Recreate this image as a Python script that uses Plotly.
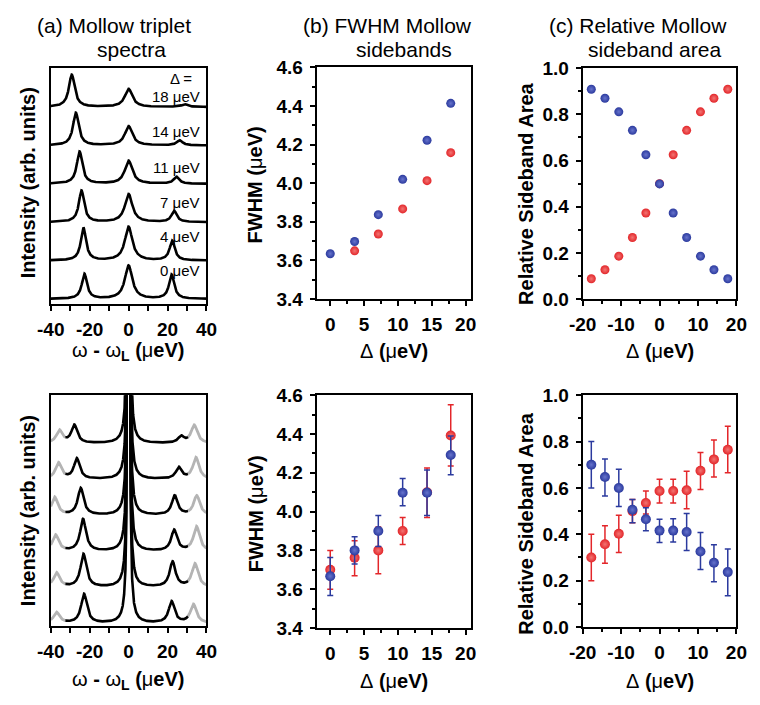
import numpy as np
import plotly.graph_objects as go

W, H = 760, 705
FONT = "Liberation Sans, Arial, sans-serif"
BLUE = "#2b3a9e"
RED = "#e3262a"
BLUE_HI = "#6673cc"
RED_HI = "#f27472"

# ---------------- (a) theory spectra: peak parameters
th_labels = ["0 μeV", "4 μeV", "7 μeV", "11 μeV", "14 μeV", "18 μeV"]
th_left_pos = [-22.7, -23.2, -24.2, -25.2, -27.1, -29.2]
th_left_h = [0.65, 0.85, 0.82, 0.84, 0.85, 0.84]
th_left_w = [1.6, 1.6, 1.65, 1.7, 1.75, 1.8]
th_center_h = [0.87, 0.88, 0.73, 0.60, 0.50, 0.47]
th_center_w = [2.3, 2.3, 2.3, 2.3, 2.3, 2.3]
th_right_pos = [22.1, 22.4, 23.4, 24.6, 26.2, 28.7]
th_right_h = [0.63, 0.51, 0.29, 0.18, 0.13, 0.07]
th_right_w = [1.6, 1.6, 1.65, 1.7, 1.75, 1.8]

ex_left_pos = [-22.9, -23.2, -23.4, -24.6, -26.6, -27.9]
ex_left_h = [0.81, 0.92, 0.89, 0.75, 0.57, 0.50]
ex_right_pos = [22.1, 22.6, 23.4, 23.7, 25.8, 27.0]
ex_right_h = [0.60, 0.70, 0.58, 0.54, 0.32, 0.18]
ex_side_w = [1.8, 1.8, 1.8, 1.8, 1.8, 1.8]
ex_spike_h = [40, 40, 40, 40, 40, 40]
ex_base_h = [0.3, 0.3, 0.3, 0.3, 0.3, 0.3]
ghost_right_pos = [33.3, 34.1, 34.9, 35.0, 34.6, 33.7]
ghost_right_h = [0.52, 0.65, 0.68, 0.54, 0.60, 0.50]
ghost_left_pos = [-37.0, -37.0, -37.5, -38.0, -36.0, -35.5]
ghost_left_h = [0.30, 0.40, 0.45, 0.50, 0.45, 0.35]
exp_black_range = [-32.5, 30.5]

# ---------------- (b) FWHM
fw_delta = [0, 3.6, 7.1, 10.7, 14.3, 17.8]
fw_theory_blue = [3.635, 3.698, 3.837, 4.020, 4.222, 4.413]
fw_theory_red_delta = [3.6, 7.1, 10.7, 14.3, 17.8]
fw_theory_red = [3.650, 3.737, 3.867, 4.013, 4.158]
fw_exp_blue = [3.667, 3.800, 3.900, 4.097, 4.097, 4.292]
fw_exp_blue_hi = [3.763, 3.870, 3.980, 4.170, 4.215, 4.390]
fw_exp_blue_lo = [3.567, 3.730, 3.820, 4.030, 3.980, 4.190]
fw_exp_red = [3.700, 3.762, 3.800, 3.900, 4.100, 4.392]
fw_exp_red_hi = [3.800, 3.850, 3.920, 3.970, 4.225, 4.550]
fw_exp_red_lo = [3.600, 3.670, 3.680, 3.830, 3.970, 4.235]

# ---------------- (c) relative sideband area
ra_delta = [-17.75, -14.2, -10.6, -7.05, -3.55, 0, 3.55, 7.05, 10.65, 14.15, 17.75]
ra_theory_blue = [0.909, 0.870, 0.811, 0.731, 0.625, 0.499, 0.373, 0.267, 0.186, 0.127, 0.088]
ra_theory_red = [0.088, 0.127, 0.186, 0.267, 0.373, 0.500, 0.625, 0.731, 0.811, 0.870, 0.909]
ra_exp_blue = [0.700, 0.647, 0.600, 0.506, 0.465, 0.416, 0.416, 0.410, 0.326, 0.277, 0.237]
ra_exp_blue_hi = [0.800, 0.725, 0.680, 0.550, 0.515, 0.465, 0.467, 0.490, 0.408, 0.355, 0.337]
ra_exp_blue_lo = [0.600, 0.565, 0.520, 0.450, 0.415, 0.365, 0.367, 0.330, 0.248, 0.195, 0.135]
ra_exp_red = [0.300, 0.357, 0.402, 0.500, 0.535, 0.587, 0.587, 0.590, 0.674, 0.723, 0.765]
ra_exp_red_hi = [0.400, 0.437, 0.482, 0.550, 0.587, 0.637, 0.637, 0.672, 0.753, 0.807, 0.866]
ra_exp_red_lo = [0.200, 0.275, 0.322, 0.450, 0.487, 0.535, 0.535, 0.510, 0.593, 0.647, 0.665]


def lor(x, x0, h, g):
    return h / (1.0 + ((x - x0) / g) ** 2)


def fx(px):
    return px / W


def fy(py):
    return 1 - py / H


fig = go.Figure()

# ---------- theory spectra
xs = np.linspace(-40, 40, 1601)
for k in range(6):
    y = (k + lor(xs, th_left_pos[k], th_left_h[k], th_left_w[k])
         + lor(xs, 0.0, th_center_h[k], th_center_w[k])
         + lor(xs, th_right_pos[k], th_right_h[k], th_right_w[k]))
    fig.add_trace(go.Scatter(x=xs, y=y, mode="lines", line=dict(color="black", width=2.6),
                             xaxis="x", yaxis="y", showlegend=False, hoverinfo="skip"))

# ---------- experimental spectra
xe = np.linspace(-40, 40, 3201)
for k in range(6):
    y = (k + lor(xe, ex_left_pos[k], ex_left_h[k], ex_side_w[k])
         + lor(xe, ex_right_pos[k], ex_right_h[k], ex_side_w[k])
         + lor(xe, 0.0, ex_spike_h[k], 0.3)
         + lor(xe, 0.0, ex_base_h[k], 2.0)
         + lor(xe, ghost_right_pos[k], ghost_right_h[k], 1.9)
         + lor(xe, ghost_left_pos[k], ghost_left_h[k], 1.9))
    lo, hi = exp_black_range
    mL = xe <= lo
    mR = xe >= hi
    mC = (xe >= lo) & (xe <= hi)
    for m, col, wdt in ((mL, "#b4b4b4", 2.8), (mR, "#b4b4b4", 2.8), (mC, "black", 2.6)):
        fig.add_trace(go.Scatter(x=xe[m], y=y[m], mode="lines", line=dict(color=col, width=wdt),
                                 xaxis="x2", yaxis="y2", showlegend=False, hoverinfo="skip"))


def sphere(color, hi, size):
    return dict(color=color, size=size, line=dict(width=0),
                gradient=dict(type="radial", color=hi))


# ---------- (b) top
fig.add_trace(go.Scatter(x=fw_theory_red_delta, y=fw_theory_red, mode="markers",
                         marker=sphere(RED, RED_HI, 9), xaxis="x3", yaxis="y3", showlegend=False))
fig.add_trace(go.Scatter(x=fw_delta, y=fw_theory_blue, mode="markers",
                         marker=sphere(BLUE, BLUE_HI, 9), xaxis="x3", yaxis="y3", showlegend=False))


def errs(v, hi, lo):
    return ([h - a for a, h in zip(v, hi)], [a - l for a, l in zip(v, lo)])


# ---------- (b) bottom
p, m = errs(fw_exp_red, fw_exp_red_hi, fw_exp_red_lo)
fig.add_trace(go.Scatter(x=fw_delta, y=fw_exp_red, mode="markers", marker=sphere(RED, RED_HI, 10),
                         error_y=dict(type="data", symmetric=False, array=p, arrayminus=m,
                                      color=RED, thickness=1.5, width=3),
                         xaxis="x4", yaxis="y4", showlegend=False))
p, m = errs(fw_exp_blue, fw_exp_blue_hi, fw_exp_blue_lo)
fig.add_trace(go.Scatter(x=fw_delta, y=fw_exp_blue, mode="markers", marker=sphere(BLUE, BLUE_HI, 10),
                         error_y=dict(type="data", symmetric=False, array=p, arrayminus=m,
                                      color=BLUE, thickness=1.5, width=3),
                         xaxis="x4", yaxis="y4", showlegend=False))

# ---------- (c) top
fig.add_trace(go.Scatter(x=ra_delta, y=ra_theory_red, mode="markers",
                         marker=sphere(RED, RED_HI, 9), xaxis="x5", yaxis="y5", showlegend=False))
fig.add_trace(go.Scatter(x=ra_delta, y=ra_theory_blue, mode="markers",
                         marker=sphere(BLUE, BLUE_HI, 9), xaxis="x5", yaxis="y5", showlegend=False))

# ---------- (c) bottom
p, m = errs(ra_exp_red, ra_exp_red_hi, ra_exp_red_lo)
fig.add_trace(go.Scatter(x=ra_delta, y=ra_exp_red, mode="markers", marker=sphere(RED, RED_HI, 10),
                         error_y=dict(type="data", symmetric=False, array=p, arrayminus=m,
                                      color=RED, thickness=1.5, width=3),
                         xaxis="x6", yaxis="y6", showlegend=False))
p, m = errs(ra_exp_blue, ra_exp_blue_hi, ra_exp_blue_lo)
fig.add_trace(go.Scatter(x=ra_delta, y=ra_exp_blue, mode="markers", marker=sphere(BLUE, BLUE_HI, 10),
                         error_y=dict(type="data", symmetric=False, array=p, arrayminus=m,
                                      color=BLUE, thickness=1.5, width=3),
                         xaxis="x6", yaxis="y6", showlegend=False))

TICKFONT = dict(family=FONT, size=19, color="black", weight="bold")


def ax(domain, anchor, rng, standoff, **kw):
    d = dict(domain=domain, anchor=anchor, range=rng, showline=True, linecolor="black",
             linewidth=2, mirror=True, ticks="outside", ticklen=5, tickwidth=1.5,
             tickcolor="black", showgrid=False, zeroline=False, tickfont=TICKFONT,
             fixedrange=True, ticklabelstandoff=standoff)
    d.update(kw)
    return d


def minor(**kw):
    d = dict(ticks="outside", ticklen=3, tickwidth=1.5, tickcolor="black", showgrid=False)
    d.update(kw)
    return d


xa_dom = [fx(38), fx(199)]
xb_dom = [fx(313), fx(473)]
xc_dom = [fx(588), fx(747)]
top_a = [fy(303), fy(60)]
bot_a = [fy(635), fy(397)]
top_b = [fy(298), fy(59)]
bot_b = [fy(637), fy(397)]
top_c = [fy(298), fy(60)]
bot_c = [fy(636), fy(397)]

spec_x = dict(tickmode="array", tickvals=[-40, -20, 0, 20, 40],
              ticktext=["-40", "-20", "0", "20", "40"],
              minor=minor(tickmode="array", tickvals=[-30, -10, 10, 30], ticklen=5))
spec_y = dict(ticks="", showticklabels=False)
b_x = dict(tickmode="array", tickvals=[0, 5, 10, 15, 20], ticktext=["0", "5", "10", "15", "20"],
           minor=minor(tickmode="array", tickvals=[2.5, 7.5, 12.5, 17.5]))
b_y = dict(tickmode="array", tickvals=[3.4, 3.6, 3.8, 4.0, 4.2, 4.4, 4.6],
           ticktext=["3.4", "3.6", "3.8", "4.0", "4.2", "4.4", "4.6"],
           minor=minor(tickmode="array", tickvals=[3.5, 3.7, 3.9, 4.1, 4.3, 4.5]))
c_x = dict(tickmode="array", tickvals=[-20, -10, 0, 10, 20],
           ticktext=["-20", "-10", "0", "10", "20"],
           minor=minor(tickmode="array", tickvals=[-15, -5, 5, 15]))
c_y = dict(tickmode="array", tickvals=[0, 0.2, 0.4, 0.6, 0.8, 1.0],
           ticktext=["0.0", "0.2", "0.4", "0.6", "0.8", "1.0"],
           minor=minor(tickmode="array", tickvals=[0.1, 0.3, 0.5, 0.7, 0.9]))

XS, YS = 2, 3
fig.update_layout(
    width=W, height=H, margin=dict(l=0, r=0, t=0, b=0),
    paper_bgcolor="white", plot_bgcolor="white", showlegend=False,
    xaxis=ax(xa_dom, "y", [-40, 40], XS, **spec_x),
    yaxis=ax(top_a, "x", [-0.13, 6.01], YS, **spec_y),
    xaxis2=ax(xa_dom, "y2", [-40, 40], XS, **spec_x),
    yaxis2=ax(bot_a, "x2", [-0.073, 6.34], YS, **spec_y),
    xaxis3=ax(xb_dom, "y3", [-2, 20.86], XS, **b_x),
    yaxis3=ax(top_b, "x3", [3.4, 4.6], YS, **b_y),
    xaxis4=ax(xb_dom, "y4", [-2, 20.86], XS, **b_x),
    yaxis4=ax(bot_b, "x4", [3.4, 4.6], YS, **b_y),
    xaxis5=ax(xc_dom, "y5", [-20, 20], XS, **c_x),
    yaxis5=ax(top_c, "x5", [0, 1], YS, **c_y),
    xaxis6=ax(xc_dom, "y6", [-20, 20], XS, **c_x),
    yaxis6=ax(bot_c, "x6", [0, 1], YS, **c_y),
)

ann = []


def text(px, py, s, size, xanchor="center", angle=0, yanchor="middle"):
    ann.append(dict(x=fx(px), y=fy(py), xref="paper", yref="paper", text=s, showarrow=False,
                    xanchor=xanchor, yanchor=yanchor, textangle=angle, align="center",
                    borderpad=0, font=dict(family=FONT, size=size, color="black")))


# panel titles: two separately placed lines, like the reference
text(103, 16, "(a) Mollow triplet", 21)
text(122, 41, "spectra", 21)
text(386, 16, "(b) FWHM Mollow", 21)
text(403, 41, "sidebands", 21)
text(645, 16, "(c) Relative Mollow", 21)
text(662, 41, "sideband area", 21)

# spectra labels
text(173, 71, "Δ =", 15)
label_y = [269, 233, 198, 162, 125, 89]
for lab, yy in zip(th_labels, label_y):
    text(193, yy, lab, 15, xanchor="right")

# axis titles
omega = "ω<b> - </b>ω<b><sub>L</sub> (</b>μ<b>eV)</b>"
delta = "Δ<b> (</b>μ<b>eV)</b>"
text(118, 352, omega, 20)
text(118, 691, omega, 20)
text(393, 351, delta, 20)
text(393, 692, delta, 20)
text(668, 351, delta, 20)
text(668, 692, delta, 20)
text(14, 178, "<b>Intensity (arb. units)</b>", 20, angle=-90)
text(14, 516, "<b>Intensity (arb. units)</b>", 20, angle=-90)
text(249, 180, "<b>FWHM (</b>μ<b>eV)</b>", 20, angle=-90)
text(250, 519, "<b>FWHM (</b>μ<b>eV)</b>", 20, angle=-90)
text(530, 190, "<b>Relative Sideband Area</b>", 20, angle=-90)
text(530, 530, "<b>Relative Sideband Area</b>", 20, angle=-90)

fig.update_layout(annotations=ann)
fig.write_html("out.html")
